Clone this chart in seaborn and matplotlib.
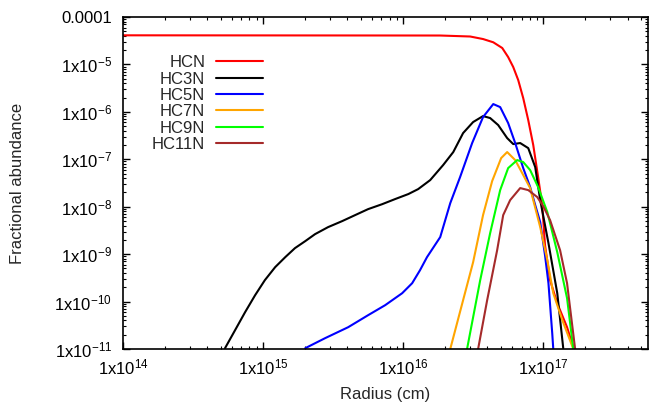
import numpy as np
import pandas as pd
import matplotlib
matplotlib.use("Agg")
import matplotlib.pyplot as plt
import matplotlib.ticker as mticker
import seaborn as sns

# ---- data (radius in cm, fractional abundance) ----
hcn_r = [1.0e14, 1.84e16, 3.01e16, 3.72e16, 4.40e16, 5.10e16, 5.62e16, 6.11e16,
         6.63e16, 7.20e16, 7.82e16, 8.49e16, 9.20e16, 9.84e16, 1.03e17, 1.12e17,
         1.26e17, 1.48e17, 1.64e17]
hcn_a = [4.11e-5, 4.07e-5, 3.88e-5, 3.43e-5, 2.93e-5, 2.22e-5, 1.43e-5, 8.81e-6,
         4.69e-6, 1.95e-6, 6.71e-7, 2.0e-7, 4.2e-8, 1.08e-8, 1.55e-9, 2.82e-10,
         9.2e-11, 2.88e-11, 1.09e-11]

hc3n_r = [5.35e14, 6.31e14, 7.44e14, 8.77e14, 1.03e15, 1.22e15, 1.44e15, 1.69e15,
          2.0e15, 2.35e15, 2.91e15, 3.67e15, 4.54e15, 5.62e15, 7.08e15, 8.77e15,
          1.09e16, 1.28e16, 1.56e16, 1.93e16, 2.28e16, 2.68e16, 3.16e16,
          3.72e16, 4.18e16, 4.77e16, 5.53e16, 6.11e16, 6.85e16, 7.82e16, 8.77e16,
          9.52e16, 1.09e17, 1.26e17, 1.39e17]
hc3n_a = [1.04e-11, 2.49e-11, 5.97e-11, 1.36e-10, 2.83e-10, 5.32e-10, 8.64e-10, 1.34e-9,
          1.88e-9, 2.64e-9, 3.71e-9, 4.97e-9, 6.65e-9, 8.89e-9, 1.13e-8, 1.45e-8,
          1.85e-8, 2.35e-8, 3.64e-8, 7.55e-8, 1.42e-7, 3.57e-7, 6.10e-7,
          8.15e-7, 7.40e-7, 5.27e-7, 2.80e-7, 2.09e-7, 2.20e-7, 1.72e-7, 6.84e-8,
          1.38e-8, 1.71e-9, 1.50e-10, 1.04e-11]

hc5n_r = [2.0e15, 2.77e15, 4.05e15, 5.62e15, 7.44e15, 9.84e15, 1.16e16, 1.32e16,
          1.48e16, 1.84e16, 2.17e16, 2.55e16, 3.11e16, 3.72e16, 4.40e16, 4.93e16,
          5.62e16, 6.31e16, 7.20e16, 8.07e16, 8.77e16, 9.52e16, 1.03e17, 1.09e17,
          1.16e17, 1.18e17]
hc5n_a = [1.04e-11, 1.69e-11, 2.88e-11, 5.16e-11, 8.39e-11, 1.50e-10, 2.44e-10, 4.59e-10,
          8.64e-10, 2.29e-9, 1.19e-8, 4.21e-8, 2.20e-7, 7.77e-7, 1.46e-6, 1.26e-6,
          5.81e-7, 2.20e-7, 6.52e-8, 2.59e-8, 1.08e-8, 4.73e-9, 9.53e-10, 2.44e-10,
          2.15e-11, 1.0e-11]

hc7n_r = [2.17e16, 2.68e16, 3.16e16, 3.72e16, 4.32e16, 5.01e16, 5.53e16, 6.31e16,
          7.08e16, 8.07e16, 9.52e16, 1.07e17, 1.18e17, 1.37e17, 1.64e17]
hc7n_a = [1.0e-11, 1.07e-10, 6.78e-10, 6.65e-9, 3.47e-8, 1.06e-7, 1.42e-7, 9.62e-8,
          5.12e-8, 2.47e-8, 3.71e-9, 7.47e-10, 1.50e-10, 4.05e-11, 1.0e-11]

hc9n_r = [2.86e16, 3.55e16, 4.18e16, 4.93e16, 5.62e16, 6.52e16, 7.20e16, 8.07e16,
          9.20e16, 1.07e17, 1.26e17, 1.48e17, 1.64e17]
hc9n_a = [1.0e-11, 2.83e-10, 2.77e-9, 2.24e-8, 6.52e-8, 9.62e-8, 8.73e-8, 5.92e-8,
          2.59e-8, 7.69e-9, 1.10e-9, 1.18e-10, 1.0e-11]

hc11n_r = [3.43e16, 3.98e16, 4.69e16, 5.18e16, 5.81e16, 6.85e16, 7.82e16, 9.06e16,
           1.0e17, 1.12e17, 1.32e17, 1.48e17, 1.69e17]
hc11n_a = [1.0e-11, 1.07e-10, 1.21e-9, 6.65e-9, 1.38e-8, 2.47e-8, 2.24e-8, 1.60e-8,
           1.03e-8, 5.21e-9, 1.21e-9, 2.44e-10, 1.0e-11]

species = ["HCN", "HC3N", "HC5N", "HC7N", "HC9N", "HC11N"]
colors = ["#ff0000", "#000000", "#0000ff", "#ffa500", "#00ff00", "#a52a2a"]
radii = [hcn_r, hc3n_r, hc5n_r, hc7n_r, hc9n_r, hc11n_r]
abunds = [hcn_a, hc3n_a, hc5n_a, hc7n_a, hc9n_a, hc11n_a]

y_ticks = [1e-4, 1e-5, 1e-6, 1e-7, 1e-8, 1e-9, 1e-10, 1e-11]
x_ticks = [1e14, 1e15, 1e16, 1e17]

# ---- build long table ----
rows = []
for name, r, a in zip(species, radii, abunds):
    for ri, ai in zip(r, a):
        rows.append({"species": name, "radius": ri, "abundance": ai})
df = pd.DataFrame(rows)

sns.set_theme(style="ticks")
plt.rcParams["font.family"] = ["Liberation Sans", "DejaVu Sans"]
plt.rcParams["mathtext.fontset"] = "custom"
plt.rcParams["mathtext.rm"] = "Liberation Sans"
plt.rcParams["mathtext.it"] = "Liberation Sans"
plt.rcParams["mathtext.default"] = "regular"

FS = 12

fig = plt.figure(figsize=(6.51, 4.05), dpi=100)
ax = fig.add_axes([123 / 651, 1 - 349 / 405, 525 / 651, 332 / 405])

sns.lineplot(data=df, x="radius", y="abundance", hue="species",
             hue_order=species, palette=dict(zip(species, colors)),
             sort=False, estimator=None, units="species", linewidth=1.5, ax=ax)

ax.set_xscale("log")
ax.set_yscale("log")
ax.set_xlim(1e14, 5.6e17)
ax.set_ylim(1e-11, 1e-4)


def yfmt(v, pos):
    e = int(round(np.log10(v)))
    if e == -4:
        return "0.0001"
    return r"1x10$^{%d}$" % e


def xfmt(v, pos):
    e = int(round(np.log10(v)))
    return r"1x10$^{%d}$" % e


ax.xaxis.set_major_locator(mticker.FixedLocator(x_ticks))
ax.yaxis.set_major_locator(mticker.FixedLocator(y_ticks))
ax.xaxis.set_major_formatter(mticker.FuncFormatter(xfmt))
ax.yaxis.set_major_formatter(mticker.FuncFormatter(yfmt))
ax.xaxis.set_minor_locator(mticker.LogLocator(base=10, subs=np.arange(2, 10), numticks=20))
ax.yaxis.set_minor_locator(mticker.LogLocator(base=10, subs=np.arange(2, 10), numticks=20))
ax.xaxis.set_minor_formatter(mticker.NullFormatter())
ax.yaxis.set_minor_formatter(mticker.NullFormatter())

ax.tick_params(which="both", direction="in", top=True, right=True, color="black",
               labelsize=FS, labelcolor="black")
ax.tick_params(which="major", length=5, width=1.0)
ax.tick_params(which="minor", length=2.5, width=0.8)
ax.tick_params(axis="y", which="major", pad=8)
ax.tick_params(axis="x", which="major", pad=6)
for s in ax.spines.values():
    s.set_visible(True)
    s.set_linewidth(1.2)
    s.set_color("black")

ax.set_xlabel("Radius (cm)", fontsize=FS, labelpad=7)
ax.set_ylabel("Fractional abundance", fontsize=FS)
ax.yaxis.set_label_coords(-0.186, 0.5)

handles, labels = ax.get_legend_handles_labels()
ax.legend(handles, labels, loc="upper right", bbox_to_anchor=(0.266, 0.885),
          frameon=False, markerfirst=False, fontsize=FS, handlelength=2.8,
          handletextpad=0.65, labelspacing=0.08, borderpad=0, borderaxespad=0)

fig.savefig("out.png", dpi=100)
